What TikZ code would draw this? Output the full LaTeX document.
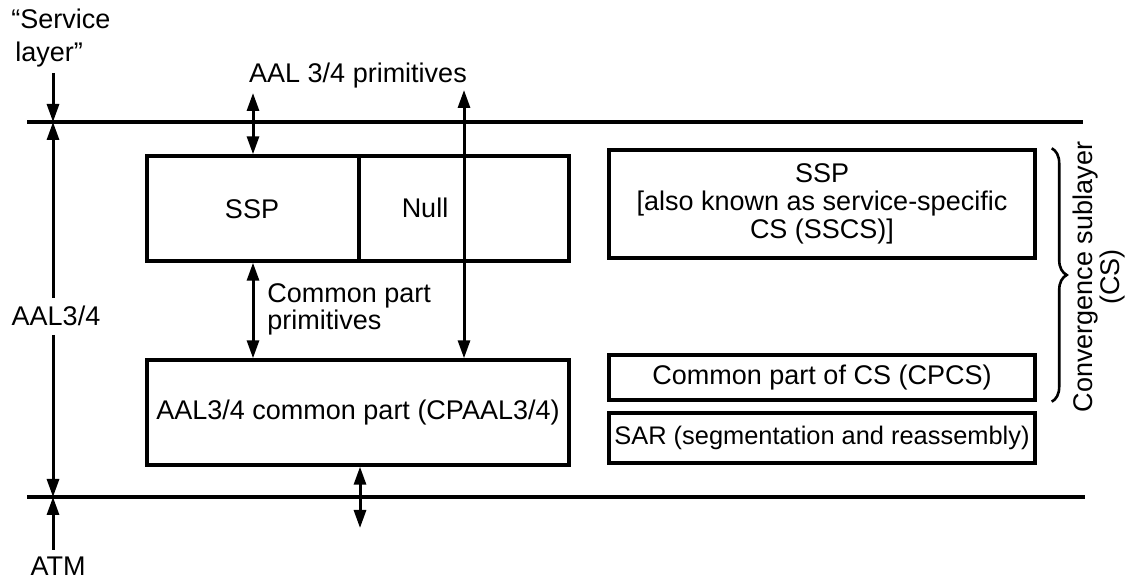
\documentclass[tikz,border=0pt]{standalone}
\usepackage{fontspec}
\setmainfont{Liberation Sans}
\usetikzlibrary{arrows.meta,decorations.pathreplacing}
\begin{document}
\begin{tikzpicture}[x=0.5pt,y=-0.5pt,
  every node/.style={font=\fontsize{13.5pt}{14pt}\selectfont, inner sep=0pt},
  box/.style={draw, line width=1.7pt},
  layer/.style={line width=1.6pt},
  arr/.style={line width=1.5pt, -{Triangle[length=9pt,width=6pt]}},
  dbl/.style={line width=1.5pt, {Triangle[length=9pt,width=6pt]}-{Triangle[length=9pt,width=6pt]}},
  brc/.style={line width=1.3pt, decorate, decoration={brace, amplitude=7.5pt}}]
\useasboundingbox (0,0) rectangle (1128,581);

% layer boundaries
\coordinate (tl) at (27,122);
\coordinate (tr) at (1083,122);
\coordinate (bl) at (27,497);
\coordinate (br) at (1085,497);
\draw[layer] (tl) -- (tr);
\draw[layer] (bl) -- (br);

% left-hand labels
\node[align=left, anchor=west, font=\fontsize{13.5pt}{16.5pt}\selectfont] (svc) at (11,38) {“Service\\\hspace*{2pt}layer”};
\node (aal) at (56,316) {AAL3/4};
\node (atm) at (58,566) {ATM};
\coordinate (s0) at (53,73);
\coordinate (l1) at (53,298);
\coordinate (l2) at (53,335);
\coordinate (l3) at (53,550);
\draw[arr] (s0) -- (s0 |- tl);
\draw[arr] (l1) -- (l1 |- tl);
\draw[arr] (l2) -- (l2 |- bl);
\draw[arr] (l3) -- (l3 |- bl);

% left stack
\node[box, minimum width=211pt, minimum height=52.5pt] (cs) at (358,208.5) {};
\node (ssp) at (252,209) {SSP};
\node (null) at (425,208) {Null};
\coordinate (dv) at (359,0);
\draw[line width=1.7pt] (cs.north -| dv) -- (cs.south -| dv);
\node[box, minimum width=211pt, minimum height=52.5pt] (cp) at (358,412.5) {AAL3/4 common part (CPAAL3/4)};

\node (prim) at (358,76) {AAL 3/4 primitives};
\coordinate (p1) at (253,93);
\coordinate (p2) at (464,90);
\coordinate (q) at (360,528);
\draw[dbl] (p1) -- (p1 |- cs.north);
\draw[dbl] (p2) -- (p2 |- cp.north);
\draw[dbl] (p1 |- cs.south) -- (p1 |- cp.north);
\draw[dbl] (q |- cp.south) -- (q);
\node[align=left, anchor=west, font=\fontsize{13.5pt}{13.5pt}\selectfont] (cpp) at (267,309) {Common part\\primitives};

% right stack
\node[box, minimum width=213pt, minimum height=54pt, align=center] (sscs) at (822,204) {SSP\\{[}also known as service-specific\\CS (SSCS)]};
\node[box, minimum width=213pt, minimum height=22.5pt] (cpcs) at (822,377.5) {Common part of CS (CPCS)};
\node[box, minimum width=213pt, minimum height=25pt, font=\fontsize{12.7pt}{14pt}\selectfont] (sar) at (822,438) {SAR (segmentation and reassembly)};

\draw[brc] ([xshift=7.5pt]sscs.north east) -- ([xshift=7.5pt]cpcs.south east);
\node[rotate=90, align=center, font=\fontsize{13.5pt}{11.5pt}\selectfont] (cslbl) at (1099,277) {Convergence sublayer\\(CS)};
\end{tikzpicture}
\end{document}
